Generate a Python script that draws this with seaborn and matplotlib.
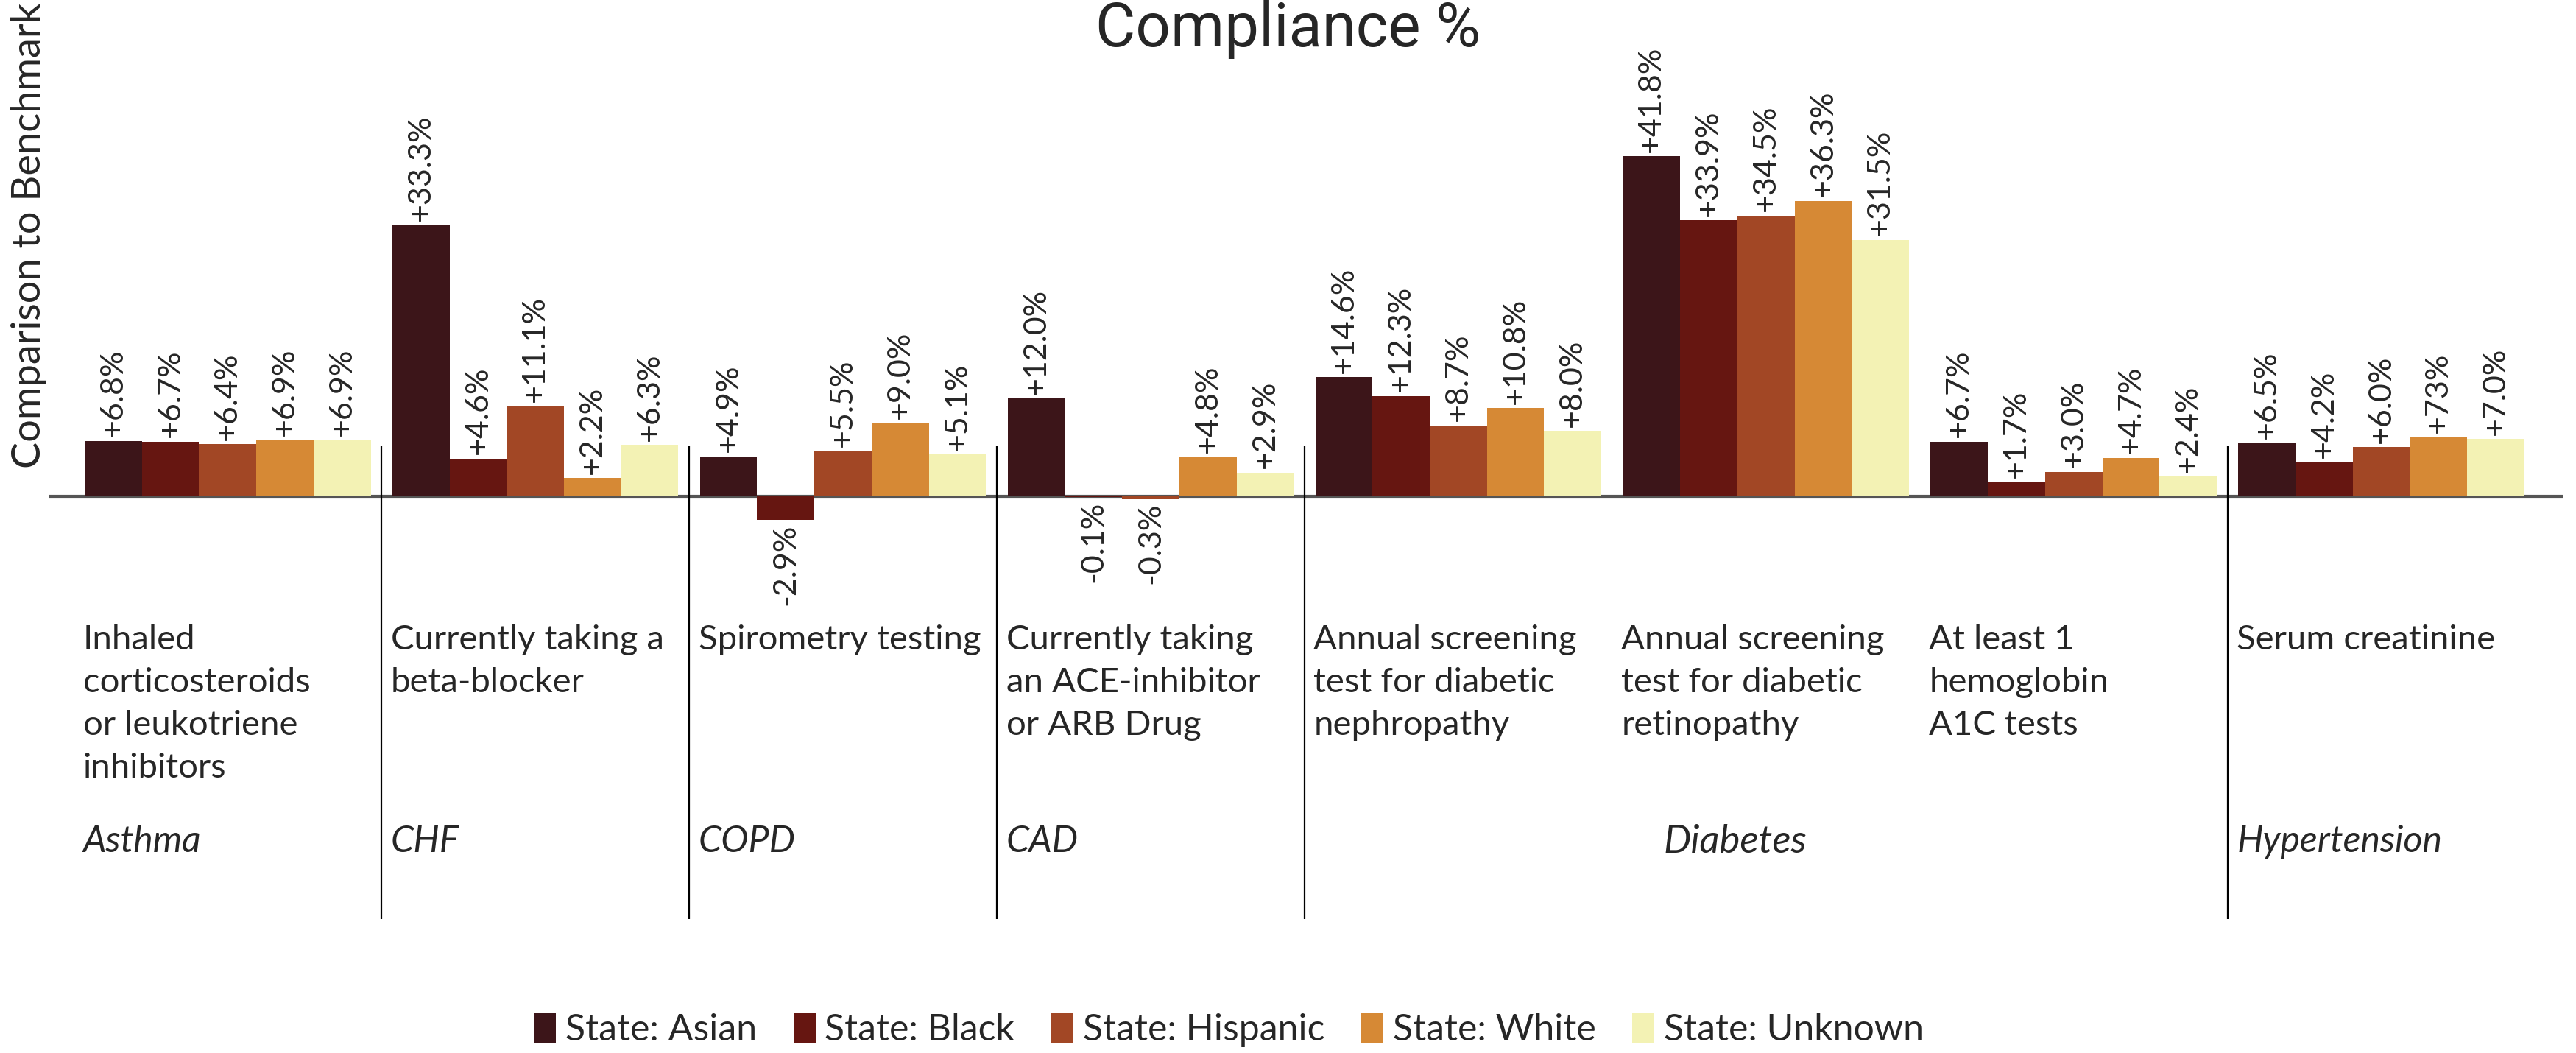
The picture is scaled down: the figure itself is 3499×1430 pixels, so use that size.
import pandas as pd
import numpy as np
import matplotlib
matplotlib.use("Agg")
import matplotlib.pyplot as plt
import seaborn as sns

# Data
conditions = ["Asthma", "CHF", "COPD", "CAD", "Diabetes", "Diabetes", "Diabetes", "Hypertension"]
measures = [
    "Inhaled\ncorticosteroids\nor leukotriene\ninhibitors",
    "Currently taking a\nbeta-blocker",
    "Spirometry testing",
    "Currently taking\nan ACE-inhibitor\nor ARB Drug",
    "Annual screening\ntest for diabetic\nnephropathy",
    "Annual screening\ntest for diabetic\nretinopathy",
    "At least 1\nhemoglobin\nA1C tests",
    "Serum creatinine",
]
groups = ["State: Asian", "State: Black", "State: Hispanic", "State: White", "State: Unknown"]
asian = [6.8, 33.3, 4.9, 12.0, 14.6, 41.8, 6.7, 6.5]
black = [6.7, 4.6, -2.9, -0.1, 12.3, 33.9, 1.7, 4.2]
hispanic = [6.4, 11.1, 5.5, -0.3, 8.7, 34.5, 3.0, 6.0]
white = [6.9, 2.2, 9.0, 4.8, 10.8, 36.3, 4.7, 7.3]
unknown = [6.9, 6.3, 5.1, 2.9, 8.0, 31.5, 2.4, 7.0]
colors = ["#3c1519", "#661611", "#a24725", "#d68935", "#f3f2b4"]

# label text as printed on the original chart
label_fix = {("State: White", 7): "+73%"}

rows = []
for g, vals in zip(groups, [asian, black, hispanic, white, unknown]):
    for i, v in enumerate(vals):
        rows.append({"measure": measures[i], "group": g, "value": v})
df = pd.DataFrame(rows)

# Plot
sns.set_style("white")
plt.rcParams["font.family"] = ["Lato", "DejaVu Sans"]

fig = plt.figure(figsize=(34.99, 14.30), dpi=100)
ax = fig.add_axes([0.0191, 0.0909, 0.9758, 0.9091])

sns.barplot(
    data=df,
    x="measure",
    y="value",
    hue="group",
    order=measures,
    hue_order=groups,
    palette=colors,
    width=0.93,
    saturation=1,
    linewidth=0,
    errorbar=None,
    ax=ax
)

# value labels
for g, cont in zip(groups, ax.containers):
    vals = df[df["group"] == g]["value"].tolist()
    labels = []
    for i, v in enumerate(vals):
        labels.append(label_fix.get((g, i), f"{v:+.1f}%"))
    ax.bar_label(cont, labels=labels, rotation=90, padding=4, fontsize=31)

ax.set_xlim(-0.58, 7.59)
ax.set_ylim(-56.7, 61.0)
ax.axhline(0, color="#555555", lw=3, zorder=0)
for s in ax.spines.values():
    s.set_visible(False)
ax.set_xticks([])
ax.set_yticks([])
ax.set_xlabel("")
ax.set_ylabel("")

# separators between conditions
bounds = [i + 0.5 for i in range(len(conditions) - 1) if conditions[i] != conditions[i + 1]]
ax.vlines(bounds, -52, 6.2, color="black", lw=1.6)

# measure labels
for i, m in enumerate(measures):
    ax.text(i - 0.47, -15.8, m, ha="left", va="top", fontsize=34, linespacing=1.47)

# condition labels
for c in dict.fromkeys(conditions):
    idx = [i for i, k in enumerate(conditions) if k == c]
    if len(idx) == 1:
        ax.text(idx[0] - 0.47, -42.5, c, ha="left", va="center",
                fontsize=36, style="italic")
    else:
        ax.text(np.mean(idx) - 0.1, -42.5, c, ha="center", va="center",
                fontsize=38, style="italic")

fig.text(0.5, 0.972, "Compliance %", ha="center", va="center",
         fontsize=60, family="Roboto")
fig.text(0.0114, 0.776, "Comparison to Benchmark", rotation=90,
         ha="center", va="center", fontsize=39)

sns.move_legend(
    ax, "center",
    bbox_to_anchor=(0.477, 0.022),
    bbox_transform=fig.transFigure,
    ncol=5,
    frameon=False,
    title=None,
    fontsize=36,
    handlelength=0.6,
    handleheight=0.9,
    handletextpad=0.25,
    columnspacing=1.0
)

fig.savefig("out.png", dpi=100)
